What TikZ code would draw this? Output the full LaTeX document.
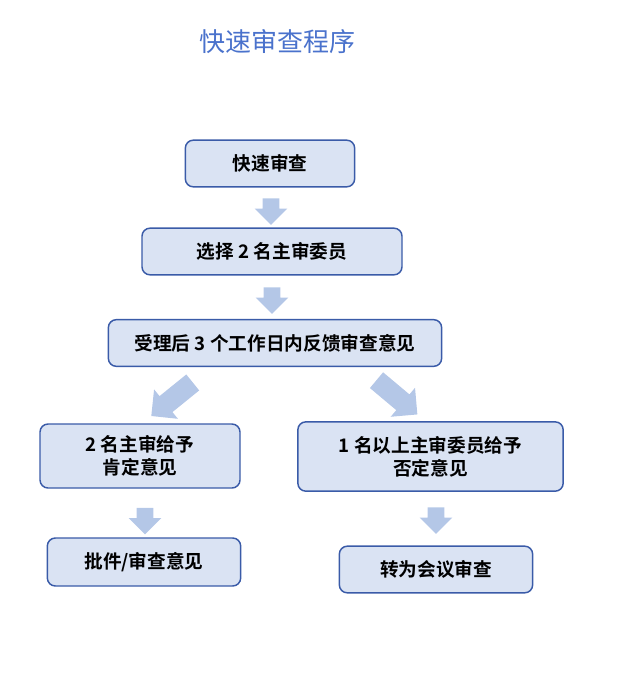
\documentclass[tikz,border=0pt]{standalone}
\usepackage{fontspec}
\newfontfamily\cjk[BoldFont={Noto Sans CJK SC Bold}]{Noto Sans CJK SC}
\usetikzlibrary{shapes.arrows}
\definecolor{boxfill}{HTML}{DAE3F3}
\definecolor{boxline}{HTML}{3A5BA8}
\definecolor{arrowfill}{HTML}{B4C7E7}
\definecolor{titleblue}{HTML}{4A72CC}

\begin{document}
\begin{tikzpicture}[x=0.75pt,y=-0.75pt,
      font=\cjk\bfseries\fontsize{14}{17.5}\selectfont,
      b/.style={rectangle,draw=boxline,line width=1.1pt,fill=boxfill,
                rounded corners=6pt,align=center,inner sep=0pt},
      blk/.style={single arrow,fill=arrowfill,draw=none,inner xsep=0pt,
                  inner ysep=6pt,single arrow head extend=6pt,
                  single arrow head indent=0pt,minimum height=20pt},
      diag/.style={blk,inner ysep=7.5pt,single arrow head extend=6.5pt,
                   minimum height=40pt}]
      \useasboundingbox (0,0) rectangle (628,699);
      \node[font=\cjk\fontsize{19.5}{22}\selectfont,text=titleblue] (title) at (277,42) {快速审查程序};
      \node[b,minimum width=127pt,minimum height=35pt] (quick)  at (270,163.5) {快速审查};
      \node[b,minimum width=195pt,minimum height=35pt] (pick)   at (272,251.5) {选择 2 名主审委员};
      \node[b,minimum width=250pt,minimum height=35pt] (reply)  at (275,343)   {受理后 3 个工作日内反馈审查意见};
      \node[b,minimum width=150pt,minimum height=48pt] (yes)    at (140,456)   {2 名主审给予\\肯定意见};
      \node[b,minimum width=199pt,minimum height=52pt] (no)     at (430.5,456.5) {1 名以上主审委员给予\\否定意见};
      \node[b,minimum width=145pt,minimum height=36pt] (permit) at (144,562)   {批件/审查意见};
      \node[b,minimum width=145pt,minimum height=35pt] (meet)   at (436,569.5) {转为会议审查};
      % block arrows
      \node[blk,rotate=-90]  (a1) at (271,207.5) {};
      \node[blk,rotate=-90]  (a2) at (272,296.5) {};
      \node[diag,rotate=-141] (a3) at (176,396) {};
      \node[diag,rotate=-40]  (a4) at (393,394) {};
      \node[blk,rotate=-90]  (a5) at (145,517) {};
      \node[blk,rotate=-90]  (a6) at (436,516.5) {};
    \end{tikzpicture}
\end{document}
